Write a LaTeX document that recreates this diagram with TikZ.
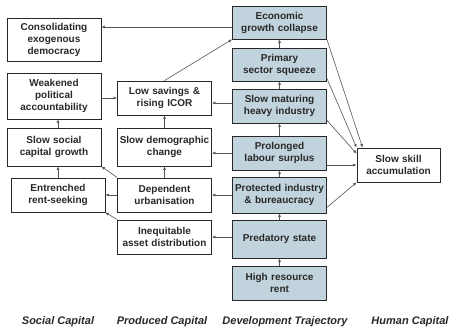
\documentclass[tikz,border=0pt]{standalone}
\usepackage{fontspec}
\setmainfont{Liberation Sans}
\usetikzlibrary{arrows.meta}
\definecolor{slate}{RGB}{193,211,220}
\definecolor{ink}{RGB}{40,40,40}
\definecolor{wire}{RGB}{85,85,85}

\begin{document}
\begin{tikzpicture}[x=1pt,y=-1pt,font=\bfseries\fontsize{10}{12}\selectfont,box/.style={draw=ink,line width=.8pt,fill=white,text=ink,align=center,inner sep=2pt,text width=90pt,minimum height=#1},box/.default=34pt,dev/.style={box=#1,fill=slate},dev/.default=34pt,arr/.style={-{Latex[length=3.5pt,width=3pt]},line width=.6pt,draw=wire},colhead/.style={font=\bfseries\itshape\fontsize{11}{13}\selectfont,text=ink}]
\useasboundingbox (0,0) rectangle (450,331);
% social capital
\node[box=43pt] (democ) at (54,39.5) {Consolidating\\exogenous\\democracy};
\node[box=46pt] (account) at (54,96) {Weakened\\political\\accountability};
\node[box=38pt] (social) at (54,147) {Slow social\\capital growth};
\node[box] (rentseek) at (58,195) {Entrenched\\rent-seeking};
% produced capital
\node[box] (savings) at (164.5,98) {Low savings \&\\rising ICOR};
\node[box=38pt] (demog) at (164.5,147) {Slow demographic\\change};
\node[box] (urban) at (164.5,195) {Dependent\\urbanisation};
\node[box] (asset) at (164.5,237) {Inequitable\\asset distribution};
% development trajectory
\node[dev=33pt] (growth) at (279.5,22.5) {Economic\\growth collapse};
\node[dev=33pt] (primary) at (279.5,64.5) {Primary\\sector squeeze};
\node[dev] (heavy) at (279.5,106) {Slow maturing\\heavy industry};
\node[dev] (labour) at (279.5,153) {Prolonged\\labour surplus};
\node[dev=36pt] (protect) at (279.5,195) {Protected industry\\\& bureaucracy};
\node[dev=38pt] (predator) at (279.5,239) {Predatory state};
\node[dev] (resource) at (279.5,283) {High resource\\rent};
% human capital
\node[box,text width=79pt] (skill) at (398.5,165) {Slow skill\\accumulation};
% main trajectory
\draw[arr](resource)--(predator);\draw[arr](predator)--(protect);\draw[arr](protect)--(labour);
\draw[arr](labour)--(heavy);\draw[arr](heavy)--(primary);\draw[arr](primary)--(growth);
% into produced capital
\coordinate (g1) at ([yshift=-4.5pt]growth.west);
\coordinate (h1) at ([yshift=3pt]heavy.west);
\draw[arr](g1)--(g1-|democ.east);
\draw[arr](h1)--(h1-|savings.east);
\draw[arr](labour.west)--(labour.west-|demog.east);
\draw[arr](protect)--(urban);
\draw[arr](predator.west|-asset.east)--(asset.east);
\draw[arr](urban)--(demog);\draw[arr](demog)--(savings);
\draw[arr](savings.north)--(growth.south west);
% into social capital
\draw[arr](urban)--(rentseek);
\draw[arr](urban.north west)--(social.south east);
\draw[arr](asset.north west)--(rentseek.south east);
\draw[arr](rentseek.north)--(rentseek.north|-social.south);
\draw[arr](social.north-|rentseek.north)--(account.south-|rentseek.north);
\draw[arr](account.east|-savings.west)--(savings.west);
% into human capital
\draw[arr](growth.south east)--([xshift=6pt]skill.north west);
\draw[arr]([yshift=3pt]primary.south east)--(skill.north west);
\draw[arr]([yshift=3pt]heavy.south east)--([yshift=-6pt]skill.north west);
\draw[arr](labour.east|-skill.west)--(skill.west);
\draw[arr]([yshift=6pt]protect.south east)--(skill.south west);
% column headings
\node[colhead] (sc) at (58,322) {Social Capital};
\node[colhead] (pc) at (162,322) {Produced Capital};
\node[colhead] (dt) at (285,322) {Development Trajectory};
\node[colhead] (hc) at (410,322) {Human Capital};
\end{tikzpicture}
\end{document}
